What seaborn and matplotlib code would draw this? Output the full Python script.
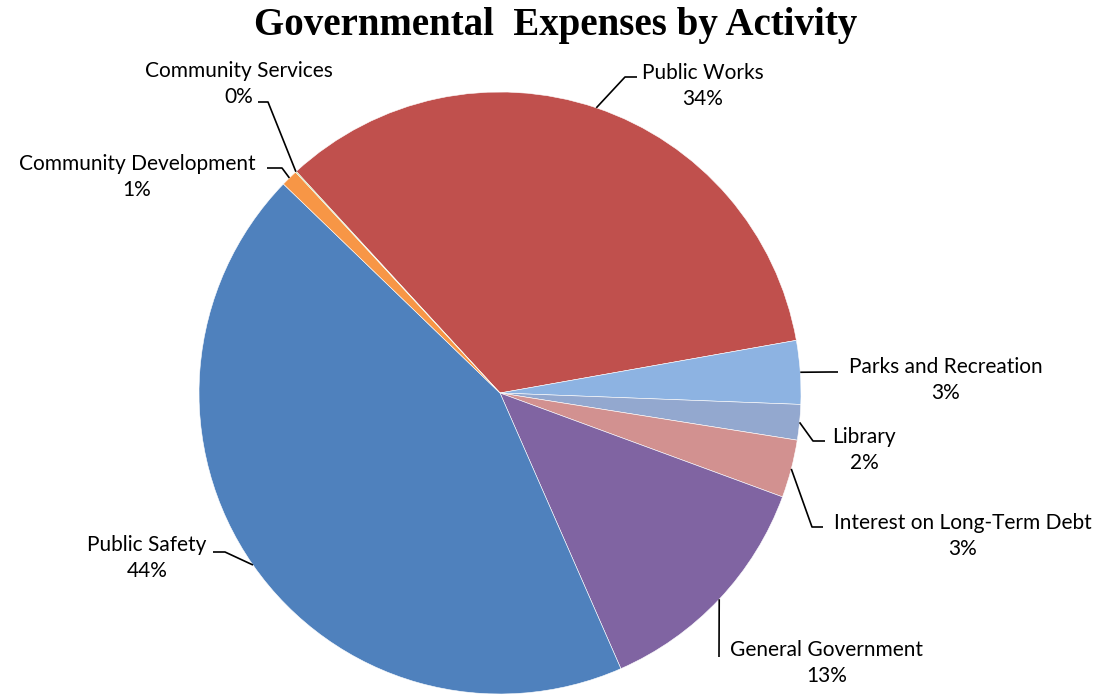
import numpy as np
import matplotlib
matplotlib.use("Agg")
import matplotlib.pyplot as plt
import seaborn as sns

# Data (percent of governmental expenses)
activities = ["Public Works", "Parks and Recreation", "Library",
              "Interest on Long-Term Debt", "General Government",
              "Public Safety", "Community Development", "Community Services"]
shares = [34.0, 3.4, 1.9, 3.1, 12.8, 43.75, 0.9, 0.05]
colors = ["#C0504D", "#8DB3E2", "#93A8CF", "#D29190", "#8064A2",
          "#4F81BD", "#F79646", "#9BBB59"]

sns.set_theme(style="white")
plt.rcParams["font.family"] = ["Lato", "DejaVu Sans"]

W, H = 1106, 695
CX, CY, R = 500, 393, 301


def px(x, y):
    # pixel position -> data coords (pie radius = 1)
    return (x - CX) / R, (CY - y) / R


fig = plt.figure(figsize=(W / 100, H / 100), dpi=100)
ax = fig.add_axes([0, 0, 1, 1])
wedges, _ = ax.pie(shares, colors=sns.color_palette(colors), startangle=132.6,
                   counterclock=False, radius=1, center=(0, 0),
                   wedgeprops=dict(edgecolor="white", linewidth=0.4))
ax.set_xlim(-CX / R, (W - CX) / R)
ax.set_ylim(-(H - CY) / R, CY / R)
ax.set_aspect("auto")
ax.axis("off")

# label centre, elbow point, line end (pixels)
label_pos = {
    "Public Works": ((703, 86), (625, 77), (637, 77)),
    "Parks and Recreation": ((946, 380), (830, 372), (838, 372)),
    "Library": ((864, 450), (813, 441), (825, 441)),
    "Interest on Long-Term Debt": ((963, 536), (812, 527), (823, 527)),
    "General Government": ((827, 663), (719, 657), (719, 657)),
    "Public Safety": ((147, 558), (225, 552), (213, 552)),
    "Community Development": ((137, 177), (282, 168), (267, 168)),
    "Community Services": ((239, 84), (268, 102), (258, 102)),
}

for w, name, val in zip(wedges, activities, shares):
    mid = np.deg2rad((w.theta1 + w.theta2) / 2)
    start = (np.cos(mid), np.sin(mid))
    (tx, ty), elbow, end = label_pos[name]
    e1 = px(*elbow)
    e2 = px(*end)
    ax.plot([start[0], e1[0], e2[0]], [start[1], e1[1], e2[1]],
            color="black", lw=1.2, solid_capstyle="butt")
    ax.text(*px(tx, ty), f"{name}\n{round(val):.0f}%", ha="center", va="center",
            fontsize=15, linespacing=1.4, color="black")

fig.text(556 / W, 1 - 26 / H, "Governmental  Expenses by Activity",
         ha="center", va="center", fontsize=28, fontweight="bold",
         family="Liberation Serif", color="black")

fig.savefig("out.png", dpi=100)
